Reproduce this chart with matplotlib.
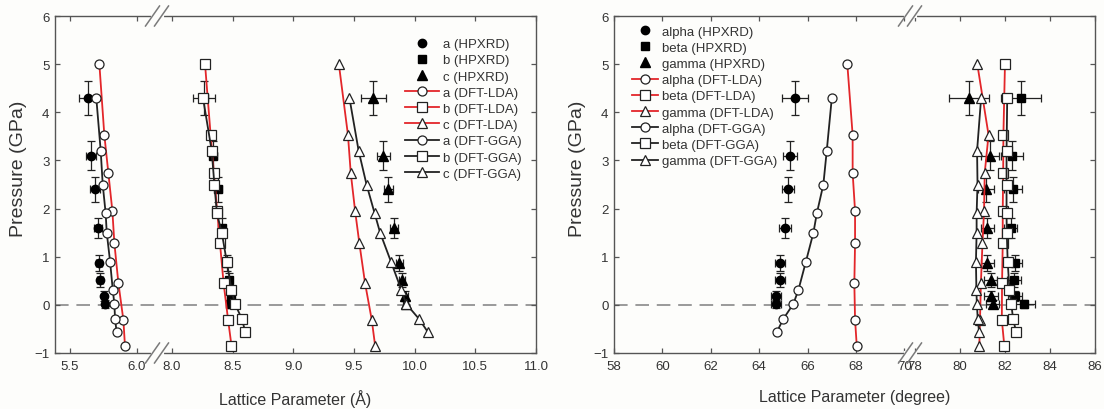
import matplotlib.pyplot as plt
import numpy as np

plt.rcParams['font.family'] = ['Liberation Sans', 'DejaVu Sans']

# --- pressures (GPa) ---
P_EXP = [4.30, 3.10, 2.40, 1.60, 0.87, 0.52, 0.18, 0.02]
P_EXP_ERR = [0.35, 0.30, 0.26, 0.21, 0.16, 0.14, 0.10, 0.08]
P_LDA = [5.00, 3.53, 2.74, 1.95, 1.28, 0.45, -0.31, -0.85]
P_GGA = [4.30, 3.20, 2.50, 1.90, 1.50, 0.90, 0.31, 0.02, -0.29, -0.57]

# --- lattice lengths (Angstrom) ---
a_exp = [5.632, 5.654, 5.687, 5.707, 5.716, 5.724, 5.756, 5.764]
a_exp_err = [0.062, 0.037, 0.035, 0.030, 0.020, 0.020, 0.015, 0.015]
b_exp = [8.265, 8.341, 8.382, 8.415, 8.452, 8.466, 8.482, 8.480]
b_exp_err = [0.090, 0.030, 0.030, 0.025, 0.020, 0.020, 0.015, 0.015]
c_exp = [9.660, 9.742, 9.783, 9.830, 9.874, 9.894, 9.921, 9.925]
c_exp_err = [0.100, 0.055, 0.040, 0.035, 0.030, 0.025, 0.020, 0.020]
a_lda = [5.719, 5.756, 5.786, 5.816, 5.831, 5.861, 5.898, 5.910]
b_lda = [8.272, 8.318, 8.345, 8.372, 8.395, 8.425, 8.462, 8.490]
c_lda = [9.375, 9.450, 9.473, 9.509, 9.544, 9.591, 9.646, 9.674]
a_gga = [5.696, 5.729, 5.744, 5.766, 5.774, 5.799, 5.819, 5.831, 5.836, 5.848]
b_gga = [8.255, 8.327, 8.349, 8.370, 8.410, 8.451, 8.490, 8.519, 8.575, 8.605]
c_gga = [9.462, 9.538, 9.603, 9.670, 9.715, 9.804, 9.890, 9.930, 10.035, 10.110]

# --- lattice angles (degree) ---
alpha_exp = [65.48, 65.27, 65.20, 65.08, 64.86, 64.86, 64.69, 64.69]
alpha_exp_err = [0.55, 0.29, 0.25, 0.25, 0.20, 0.20, 0.20, 0.20]
beta_exp = [82.71, 82.30, 82.34, 82.25, 82.44, 82.40, 82.44, 82.84]
beta_exp_err = [0.89, 0.48, 0.40, 0.30, 0.30, 0.30, 0.30, 0.50]
gamma_exp = [80.41, 81.35, 81.15, 81.22, 81.22, 81.36, 81.37, 81.45]
gamma_exp_err = [0.90, 0.40, 0.35, 0.30, 0.30, 0.30, 0.30, 0.30]
alpha_lda = [67.64, 67.86, 67.86, 67.96, 67.96, 67.93, 67.96, 68.03]
beta_lda = [82.00, 81.93, 81.92, 81.90, 81.90, 81.87, 81.86, 81.97]
gamma_lda = [80.77, 81.27, 81.10, 81.07, 81.00, 80.93, 80.89, 80.86]
alpha_gga = [67.00, 66.79, 66.65, 66.38, 66.24, 65.93, 65.62, 65.41, 65.00, 64.72]
beta_gga = [82.10, 82.07, 82.07, 82.07, 82.08, 82.12, 82.20, 82.28, 82.36, 82.50]
gamma_gga = [80.94, 80.76, 80.78, 80.74, 80.74, 80.71, 80.73, 80.75, 80.79, 80.85]

LEFT_TICKS = [5.5, 6.0, 8.0, 8.5, 9.0, 9.5, 10.0, 10.5, 11.0]
RIGHT_TICKS = [58, 60, 62, 64, 66, 68, 70, 78, 80, 82, 84, 86]

RED = '#e3262a'
INK = '#222222'
GREY = '#333333'


def broken_scale(lo1, hi1, lo2, hi2, w1, w2):
    # piecewise linear x axis: [lo1, hi1] then [lo2, hi2], widths w1 : w2
    s1 = w1 / (hi1 - lo1)
    s2 = w2 / (hi2 - lo2)

    def fwd(x):
        x = np.asarray(x, float)
        return np.where(x < (hi1 + lo2) / 2,
                        (np.minimum(x, hi1) - lo1) * s1,
                        w1 + (np.maximum(x, lo2) - lo2) * s2)

    def inv(y):
        y = np.asarray(y, float)
        return np.where(y < w1, lo1 + y / s1, lo2 + (y - w1) / s2)

    return fwd, inv


def draw_break(ax, frac):
    # "//" marks on top and bottom spines
    dx, dy, gap = 7 / 481, 10 / 337, 4.5 / 481
    for yb in (0, 1):
        ax.plot([frac - gap, frac + gap], [yb, yb], color='#fdfdfb', lw=3,
                transform=ax.transAxes, clip_on=False, zorder=10)
        for off in (-gap, gap):
            ax.plot([frac + off - dx, frac + off + dx], [yb - dy, yb + dy],
                    color='#7a7a7a', lw=1.1, transform=ax.transAxes,
                    clip_on=False, zorder=11)


def panel(ax, exp, exp_err, lda, gga, names):
    markers = ['o', 's', '^']
    handles = [[], [], []]
    for x, xe, m, n in zip(exp, exp_err, markers, names):
        ax.errorbar(x, P_EXP, xerr=xe, yerr=P_EXP_ERR, fmt='none', ecolor=INK,
                    elinewidth=0.9, capsize=3.2, capthick=0.9, zorder=3)
        h, = ax.plot(x, P_EXP, linestyle='none', marker=m, ms=6.5 if m == '^' else 6,
                     color='black', zorder=4, label=f'{n} (HPXRD)')
        handles[0].append(h)
    for x, m, n in zip(lda, markers, names):
        h, = ax.plot(x, P_LDA, color=RED, lw=1.3, marker=m, ms=6.5, mfc='white',
                     mec=INK, mew=0.9, zorder=5, label=f'{n} (DFT-LDA)')
        handles[1].append(h)
    for x, m, n in zip(gga, markers, names):
        h, = ax.plot(x, P_GGA, color=INK, lw=1.3, marker=m, ms=6.5, mfc='white',
                     mec=INK, mew=0.9, zorder=5, label=f'{n} (DFT-GGA)')
        handles[2].append(h)

    ax.axhline(0, color='#9a9a9a', lw=1.4, ls=(0, (7, 4)), zorder=1)
    ax.set_ylim(-1, 6)
    ax.set_yticks(range(-1, 7))
    ax.tick_params(direction='in', top=True, right=True, length=3.5, width=0.9,
                   colors='#555555', labelcolor=GREY, labelsize=9.5, pad=4)
    ax.tick_params(axis='x', pad=5)
    for s in ax.spines.values():
        s.set_color('#555555')
        s.set_linewidth(1.0)
    ax.set_ylabel('Pressure (GPa)', fontsize=14, color=GREY)
    ax.yaxis.set_label_coords(-28 / 481, 0.55)
    return handles[0] + handles[1] + handles[2]


fig = plt.figure(figsize=(11.04, 4.10), dpi=100, facecolor='#fdfdfb')
ax1 = fig.add_axes([55 / 1104, 56 / 410, 481 / 1104, 337 / 410])
ax2 = fig.add_axes([614 / 1104, 56 / 410, 481 / 1104, 337 / 410])
for ax in (ax1, ax2):
    ax.set_facecolor('#fdfdfb')

# left panel: lattice lengths, axis broken between 6.0 and 8.0
ax1.set_xscale('function', functions=broken_scale(5.388, 6.149, 7.876, 11.0, 102, 379))
h1 = panel(ax1, [a_exp, b_exp, c_exp], [a_exp_err, b_exp_err, c_exp_err],
           [a_lda, b_lda, c_lda], [a_gga, b_gga, c_gga], ['a', 'b', 'c'])
ax1.set_xlim(5.388, 11.0)
ax1.set_xticks(LEFT_TICKS, [f'{t:.1f}' for t in LEFT_TICKS])
ax1.minorticks_off()
ax1.set_xlabel('Lattice Parameter (Å)', fontsize=11.5, color=GREY, labelpad=12)
draw_break(ax1, 102 / 481)
ax1.legend(handles=h1, loc='upper left', bbox_to_anchor=(0.728, 0.935), frameon=False,
           fontsize=9.5, handlelength=2.6, handletextpad=0.3, labelspacing=0.3,
           borderaxespad=0, borderpad=0, labelcolor=GREY)

# right panel: lattice angles, axis broken between 70 and 78
ax2.set_xscale('function', functions=broken_scale(58, 70.23, 77.78, 86, 296, 185))
h2 = panel(ax2, [alpha_exp, beta_exp, gamma_exp], [alpha_exp_err, beta_exp_err, gamma_exp_err],
           [alpha_lda, beta_lda, gamma_lda], [alpha_gga, beta_gga, gamma_gga],
           ['alpha', 'beta', 'gamma'])
ax2.set_xlim(58, 86)
ax2.set_xticks(RIGHT_TICKS, [str(t) for t in RIGHT_TICKS])
ax2.minorticks_off()
ax2.set_xlabel('Lattice Parameter (degree)', fontsize=11.5, color=GREY, labelpad=12)
draw_break(ax2, 296 / 481)
ax2.legend(handles=h2, loc='upper left', bbox_to_anchor=(0.037, 0.972), frameon=False,
           fontsize=9.5, handlelength=2.0, handletextpad=0.3, labelspacing=0.3,
           borderaxespad=0, borderpad=0, labelcolor=GREY)

fig.savefig('out.png', dpi=100, facecolor=fig.get_facecolor())
